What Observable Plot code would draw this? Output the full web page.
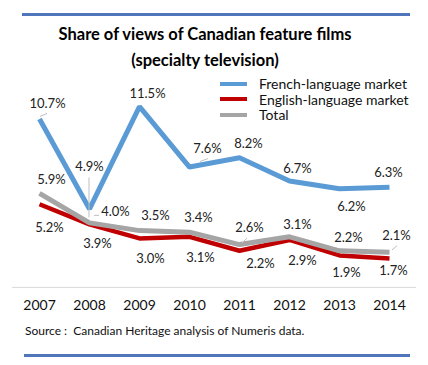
<!DOCTYPE html>
<html>
<head>
<meta charset="utf-8">
<script src="https://cdn.jsdelivr.net/npm/d3@7"></script>
<script src="https://cdn.jsdelivr.net/npm/@observablehq/plot@0.6"></script>
<style>
  html, body { margin: 0; padding: 0; background: #fff; }
  #page { position: relative; width: 428px; height: 365px; overflow: hidden; font-family: Lato, "Open Sans", sans-serif; color: #111; }
  .rule { position: absolute; height: 3px; background: #4f76ba; }
  #title { position: absolute; left: 0; top: 21px; width: 410px; text-align: center; font-weight: bold; font-size: 16.5px; line-height: 26px; color: #000; }
  #chart { position: absolute; left: 0; top: 72px; }
  #legend { position: absolute; left: 220px; top: 76px; font-size: 14px; line-height: 15.5px; color: #111; }
  #legend .item { display: flex; align-items: center; }
  #legend .sw { width: 27px; height: 4px; margin-right: 12px; }
  #source { position: absolute; left: 25px; top: 323px; font-size: 12px; line-height: 16px; color: #111; }
</style>
</head>
<body>
<div id="page">
  <div class="rule" style="left:22px;top:13px;width:388px"></div>
  <div id="title">Share of views of Canadian feature films<br>(specialty television)</div>
  <div id="chart"></div>
  <div id="legend"></div>
  <div id="source">Source :&nbsp; Canadian Heritage analysis of Numeris data.</div>
  <div class="rule" style="left:24px;top:354px;width:386px"></div>
</div>
<script>
// ---- data ----
const years = ["2007", "2008", "2009", "2010", "2011", "2012", "2013", "2014"];
const seriesNames = ["French-language market", "English-language market", "Total"];
const french  = [10.7, 4.9, 11.5, 7.6, 8.2, 6.7, 6.2, 6.3];
const english = [5.2, 3.9, 3.0, 3.1, 2.2, 2.9, 1.9, 1.7];
const total   = [5.9, 4.0, 3.5, 3.4, 2.6, 3.1, 2.2, 2.1];

// ---- styling / label placement (pixel offsets relative to each point) ----
const colors = ["#5b9bd5", "#c00000", "#a5a5a5"];
const labelOffsets = {
  "French-language market":  [[8,-15],[0,-42],[8,-13],[18,-18],[9,-14],[8,-12],[12,18],[-1,-14]],
  "English-language market": [[10,24],[8,19],[11,20],[11,21],[21,13],[13,21],[7,17],[4,12]],
  "Total":                   [[12,-14],[26,-11],[16,-15],[9,-14],[10,-17],[8,-12],[9,-13],[7,-17]]
};
// leader lines: [series index, year index, from dx, from dy, to dx, to dy] (pixel offsets from the point)
const leaders = [
  [0, 0, 1, -2, 8, -5],
  [0, 1, 0, -31, 0, 9],
  [2, 1, 5, -7, 10, -7],
  [0, 3, 11, -5, 19, -8],
  [2, 4, 3, -1, 8, -6],
  [2, 7, 3, -2, 8, -6]
];

const valuesBySeries = [french, english, total];
const rows = seriesNames.flatMap((s, i) =>
  years.map((y, j) => ({series: s, year: y, value: valuesBySeries[i][j], dx: labelOffsets[s][j][0], dy: labelOffsets[s][j][1]}))
);

const lineMarks = seriesNames.map((s, i) =>
  Plot.line(rows.filter(d => d.series === s), {x: "year", y: "value", stroke: colors[i], strokeWidth: i === 1 ? 4.5 : 5, strokeLinejoin: "miter", strokeLinecap: "butt"})
);
const labelMarks = rows.map(d =>
  Plot.text([d], {x: "year", y: "value", text: d => d.value.toFixed(1) + "%", dx: d.dx, dy: d.dy, fontSize: 13, fill: "#222"})
);

const chart = Plot.plot({
  width: 428,
  height: 246,
  marginLeft: 39,
  marginRight: 39,
  marginTop: 10.8,
  marginBottom: 33.6,
  style: {fontFamily: "Lato, 'Open Sans', sans-serif", background: "transparent"},
  x: {type: "point", domain: years, padding: 0, label: null},
  y: {domain: [0, 13], axis: null},
  marks: [
    Plot.ruleY([0], {stroke: "#d9d9d9", strokeWidth: 1, dy: 2.5, insetLeft: -27, insetRight: -27}),
    Plot.axisX({tickSize: 0, tickPadding: 15, fontSize: 14, label: null, fill: "#111"}),
    ...lineMarks,
    ...labelMarks
  ]
});
document.getElementById("chart").appendChild(chart);

// leader lines positioned through the chart's own scales
const xs = chart.scale("x"), ys = chart.scale("y");
const svg = d3.select(chart.tagName.toLowerCase() === "svg" ? chart : chart.querySelector("svg"));
const g = svg.append("g").attr("stroke", "#bfbfbf").attr("stroke-width", 1);
leaders.forEach(([si, yi, x0, y0, x1, y1]) => {
  const px = xs.apply(years[yi]);
  const py = ys.apply(valuesBySeries[si][yi]);
  g.append("line").attr("x1", px + x0).attr("y1", py + y0).attr("x2", px + x1).attr("y2", py + y1);
});

// legend
const legend = document.getElementById("legend");
seriesNames.forEach((s, i) => {
  const item = document.createElement("div");
  item.className = "item";
  const sw = document.createElement("span");
  sw.className = "sw";
  sw.style.background = colors[i];
  const t = document.createElement("span");
  t.textContent = s;
  item.appendChild(sw); item.appendChild(t);
  legend.appendChild(item);
});
</script>
</body>
</html>
